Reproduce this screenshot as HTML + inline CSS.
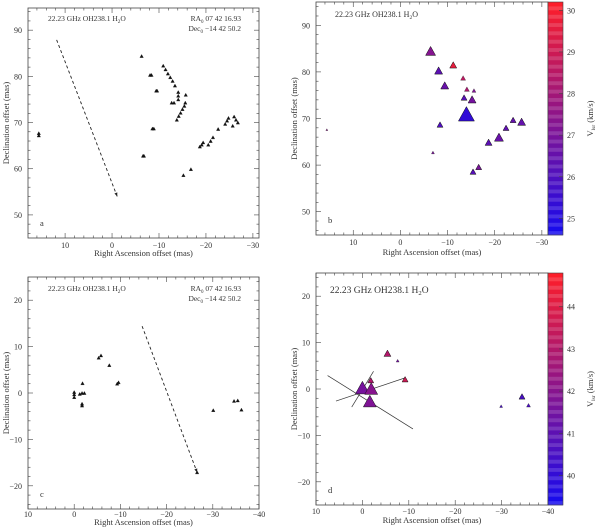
<!DOCTYPE html>
<html><head><meta charset="utf-8"><style>
html,body{margin:0;padding:0;background:#fff;}
svg{display:block;font-family:"Liberation Serif",serif;}
</style></head><body>
<svg id="fig" width="600" height="529" viewBox="0 0 600 529" xmlns="http://www.w3.org/2000/svg"></svg>
<script>
// ---- Panel a data (RA, Dec) ----
const aRA  = [15.6,15.6,-6.3,-8.1,-8.4,-9.4,-9.6,-8.6,-8.9,-6.6,-6.8,-10.9,-11.4,-11.9,-12.4,-12.9,-13.4,-13.2,-12.7,-14.1,-14.1,-14.1,-15.7,-13.8,-14.2,-14.6,-15.0,-15.4,-15.6,-15.2,-16.8,-18.7,-19.1,-19.4,-20.5,-21.0,-21.5,-22.6,-24.1,-24.5,-24.8,-25.7,-26.0,-26.4,-26.8];
const aDec = [67.7,67.2,84.4,80.3,80.3,76.9,76.9,68.7,68.7,62.8,62.8,82.3,81.5,80.6,79.8,79.0,78.0,74.3,74.3,76.6,75.8,75.0,76.0,70.6,71.4,72.1,72.9,73.6,74.3,58.6,59.9,64.8,65.2,65.7,65.2,66.0,66.8,68.6,69.7,70.4,71.0,69.3,71.3,70.6,70.0];
const aArrow = [11.8,87.9,-1.1,54.0];
// ---- Panel b data ----
const bRA   = [15.6,-6.4,-8.1,-11.2,-9.4,-13.3,-14.1,-15.6,-13.5,-15.2,-14.0,-8.4,-6.9,-15.4,-16.6,-18.7,-20.9,-22.4,-23.9,-25.7];
const bDec  = [67.6,84.5,80.3,81.5,77.1,78.7,76.3,76.0,74.5,74.1,71.0,68.7,62.7,58.6,59.6,64.9,66.0,68.0,69.7,69.3];
const bSize = [2,10,8,7,8,5,5,4,6,8,16,6,3,6,6,7,9,6,6,8];
const bVel  = [27.5,27.3,26.3,29.6,26.6,28.6,28.2,27.2,26.2,26.9,25.3,26.0,27.0,26.2,27.0,26.3,26.6,26.4,26.5,26.5];
const bTicks = [25,26,27,28,29,30];
// ---- Panel c data ----
const cRA  = [0,0,0,-1.2,-1.7,-1.8,-2.2,-1.7,-1.7,-5.3,-5.8,-7.6,-9.3,-9.6,-30.1,-34.6,-35.4,-36.2,-26.6];
const cDec = [-0.9,-0.3,0.2,-0.2,0,2.1,0,-2.7,-2.3,7.6,8.1,6.0,2.0,2.3,-3.7,-1.7,-1.6,-3.6,-17.1];
const cArrow = [-14.7,14.4,-26.6,-17.1];
// ---- Panel d data ----
const dRA   = [0,-1.8,-1.9,-1.6,-5.4,-7.6,-9.2,-29.9,-34.4,-35.8];
const dDec  = [0.3,1.9,0.1,-2.6,7.7,6.1,2.1,-3.7,-1.6,-3.5];
const dSize = [14,6,13,13,7,3,6,3,6,4];
const dVel  = [41.6,43.0,42.0,41.8,43.0,41.5,43.6,40.5,40.5,40.6];
const dTicks = [40,41,42,43,44];
const dLines = [[7.5,2.9,-10.9,-8.6],[5.7,-2.6,-9.2,2.4],[2.3,-3.9,-2.4,3.8]];

const NS="http://www.w3.org/2000/svg";
const fig=document.getElementById('fig');
function mk(tag,attrs,parent){const e=document.createElementNS(NS,tag);for(const k in attrs)e.setAttribute(k,attrs[k]);(parent||fig).appendChild(e);return e;}
function velColor(v,lo,hi){let t=(v-lo)/(hi-lo);t=Math.max(0,Math.min(1,t));const r=Math.round(20+235*t),b=Math.round(240*(1-t)+40*t),g=Math.round(10+20*t);return `rgb(${r},${g},${b})`;}

function panel(o){
  const g=mk('g',{});
  
  
  const X=v=>o.L+(o.x0-v)/(o.x0-o.x1)*(o.R-o.L);
  const Y=v=>o.T+(o.y1-v)/(o.y1-o.y0)*(o.B-o.T);
  const fr=mk('rect',{x:o.L,y:o.T,width:o.R-o.L,height:o.B-o.T,fill:'none',stroke:'#444','stroke-width':0.8},g);
  
  for(let v=Math.ceil(o.x1/2)*2;v<=o.x0;v+=2){const x=X(v);const maj=v%10===0;const l=maj?5:2.5;
    mk('line',{x1:x,y1:o.B,x2:x,y2:o.B-l,stroke:'#444','stroke-width':0.6},g);
    mk('line',{x1:x,y1:o.T,x2:x,y2:o.T+l,stroke:'#444','stroke-width':0.6},g);
    if(maj){const t=mk('text',{x:x,y:o.B+o.tickDy,'font-size':8,'text-anchor':'middle',fill:'#333'},g);t.textContent=v===0?'0':(v>0?v:'\u2212'+(-v));}}
  for(let v=Math.ceil(o.y0/2)*2;v<=o.y1;v+=2){const y=Y(v);const maj=v%10===0;const l=maj?5:2.5;
    mk('line',{x1:o.L,y1:y,x2:o.L+l,y2:y,stroke:'#444','stroke-width':0.6},g);
    if(!o.cbar)mk('line',{x1:o.R,y1:y,x2:o.R-l,y2:y,stroke:'#444','stroke-width':0.6},g);
    if(maj){const t=mk('text',{x:o.L-6,y:y+3,'font-size':8,'text-anchor':'end',fill:'#333'},g);t.textContent=v===0?'0':(v>0?v:'\u2212'+(-v));}}
  const xl=mk('text',{x:(o.L+o.R)/2,y:o.B+o.titleDy,'font-size':8.5,'text-anchor':'middle',fill:'#333'},g);xl.textContent='Right Ascension offset (mas)';
  
  const yx=o.L-19,yy=(o.T+o.B)/2;
  const yl=mk('text',{x:yx,y:yy,'font-size':8.5,'text-anchor':'middle',fill:'#333',transform:`rotate(-90 ${yx} ${yy})`},g);yl.textContent='Declination offset (mas)';
  
  const tt=mk('text',{x:o.titleX,y:o.titleY,'font-size':o.titleFs,fill:'#333'},g);tt.innerHTML='22.23 GHz OH238.1 H<tspan font-size="'+(o.titleFs*0.7)+'" dy="2">2</tspan><tspan dy="-2">O</tspan>';
  
  if(o.coords){const c1=mk('text',{x:o.R-18,y:o.titleY,'font-size':7.5,'text-anchor':'end',fill:'#333'},g);c1.innerHTML='RA<tspan font-size="5" dy="2">0</tspan><tspan dy="-2"> 07 42 16.93</tspan>';
    
    const c2=mk('text',{x:o.R-18,y:o.titleY+10,'font-size':7.5,'text-anchor':'end',fill:'#333'},g);c2.innerHTML='Dec<tspan font-size="5" dy="2">0</tspan><tspan dy="-2"> \u221214 42 50.2</tspan>';
    }
  const pl=mk('text',{x:o.L+12,y:o.B-12,'font-size':8.5,fill:'#333'},g);pl.textContent=o.letter;
  
  return {g,X,Y};
}
function tri(g,x,y,s,fill){const h=s*0.9;const p=mk('polygon',{points:`${x-s/2},${y+h/2} ${x+s/2},${y+h/2} ${x},${y-h/2}`,fill:fill,stroke:'#111','stroke-width':s>5?0.5:0.3},g);return p;}
function arrow(g,X,Y,a){const l=mk('line',{x1:X(a[0]),y1:Y(a[1]),x2:X(a[2]),y2:Y(a[3]),stroke:'#222','stroke-width':0.9,'stroke-dasharray':'3,2.5'},g);
  
  const x=X(a[2]),y=Y(a[3]),ang=Math.atan2(Y(a[3])-Y(a[1]),X(a[2])-X(a[0]));const s=4;
  mk('polygon',{points:`${x},${y} ${x-s*Math.cos(ang-0.4)},${y-s*Math.sin(ang-0.4)} ${x-s*Math.cos(ang+0.4)},${y-s*Math.sin(ang+0.4)}`,fill:'#222'},g);}
function colorbar(o,ticks,lo,hi){
  const g=mk('g',{});
  const x0=o.R,w=15,n=56,h=(o.B-o.T)/n;
  for(let i=0;i<n;i++){const v=hi-(i+0.5)/n*(hi-lo);const c=velColor(v,lo,hi);mk('rect',{x:x0,y:o.T+i*h,width:w,height:h+0.3,fill:c,opacity:i%2?0.85:1},g);}
  mk('rect',{x:x0,y:o.T,width:w,height:o.B-o.T,fill:'none',stroke:'#444','stroke-width':0.6},g);
  const Yc=v=>o.T+(hi-v)/(hi-lo)*(o.B-o.T);
  ticks.forEach(v=>{const y=Yc(v);mk('line',{x1:x0+w-4,y1:y,x2:x0+w,y2:y,stroke:'#444','stroke-width':0.6},g);
    const t=mk('text',{x:x0+w+4,y:y+3,'font-size':8,fill:'#333'},g);t.textContent=v;});
  const lx=593,ly=(o.T+o.B)/2;
  const t=mk('text',{x:lx,y:ly,'font-size':8.5,'text-anchor':'middle',fill:'#333',transform:`rotate(-90 ${lx} ${ly})`},g);
  t.innerHTML='V<tspan font-size="5.5" dy="2">lsr</tspan><tspan dy="-2"> (km/s)</tspan>';
  
}

const A={name:'panel-a',L:28,R:259,T:8,B:238,x0:17.9,x1:-31.3,y0:45,y1:94.8,titleX:48,titleY:21,titleFs:7.5,coords:true,letter:'a',tickDy:10,titleDy:18};
const pa=panel(A);
aRA.forEach((v,i)=>tri(pa.g,pa.X(v),pa.Y(aDec[i]),3.5,'#111'));
arrow(pa.g,pa.X,pa.Y,aArrow);
const Bo={name:'panel-b',L:316,R:548,T:2,B:235,x0:17.9,x1:-31.3,y0:45,y1:95,titleX:335,titleY:17,titleFs:8,coords:false,letter:'b',cbar:true,tickDy:10,titleDy:20};
const pb=panel(Bo);
colorbar(Bo,bTicks,24.6,30.2);
bRA.forEach((v,i)=>tri(pb.g,pb.X(v),pb.Y(bDec[i]),bSize[i],velColor(bVel[i],24.6,30.2)));
const C={name:'panel-c',L:28,R:259,T:277,B:509,x0:10,x1:-40,y0:-25,y1:25,titleX:48,titleY:291,titleFs:7.5,coords:true,letter:'c',tickDy:8,titleDy:16};
const pc=panel(C);
cRA.forEach((v,i)=>tri(pc.g,pc.X(v),pc.Y(cDec[i]),3.5,'#111'));
arrow(pc.g,pc.X,pc.Y,cArrow);
const D={name:'panel-d',L:316,R:548,T:273,B:505,x0:10,x1:-40,y0:-25,y1:25,titleX:330,titleY:293,titleFs:9.5,coords:false,letter:'d',cbar:true,tickDy:9,titleDy:18};
const pd=panel(D);
colorbar(D,dTicks,39.3,44.8);
dLines.forEach(l=>{const e=mk('line',{x1:pd.X(l[0]),y1:pd.Y(l[1]),x2:pd.X(l[2]),y2:pd.Y(l[3]),stroke:'#333','stroke-width':0.7},pd.g);});
dRA.forEach((v,i)=>tri(pd.g,pd.X(v),pd.Y(dDec[i]),dSize[i],velColor(dVel[i],39.3,44.8)));
</script>
</body></html>
